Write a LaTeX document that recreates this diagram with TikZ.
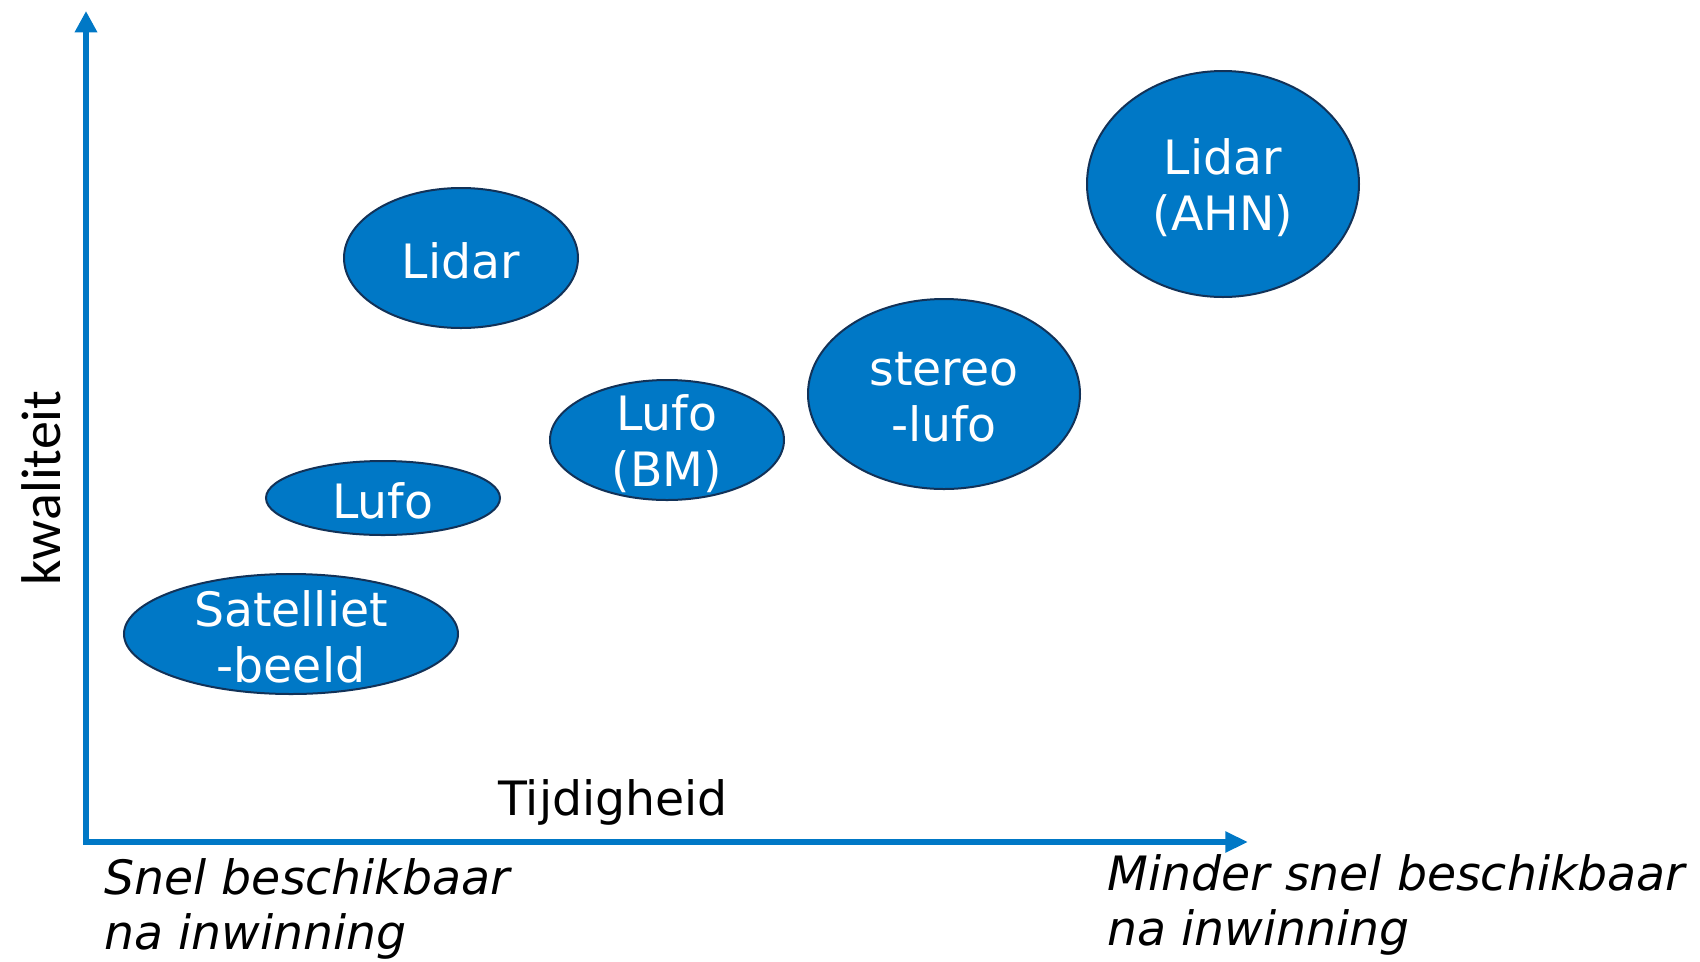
\documentclass[tikz,border=0pt]{standalone}
\usepackage{fontspec}
\setmainfont{DejaVu Sans}
\newfontfamily\kwalfont{Carlito}
\usetikzlibrary{arrows.meta,shapes.geometric}

\definecolor{blobblue}{RGB}{0,120,198}
\definecolor{blobedge}{RGB}{18,50,88}

\tikzset{every picture/.style={line width=0.75pt}}
\tikzset{
	blob/.style={ellipse, draw=blobedge, fill=blobblue, line width=1.5pt, inner sep=0pt},
	blobtext/.style={text=white, align=center, inner sep=0pt, yshift=-2.5pt, font=\fontsize{35.5}{42}\selectfont},
	axisline/.style={draw=blobblue, line width=4pt, {Triangle[width=16pt,length=16pt]}-{Triangle[width=15pt,length=17pt]}},
	axistext/.style={inner sep=0pt, font=\fontsize{35.5}{41}\selectfont\itshape, align=left, anchor=base west}}

\begin{document}
\begin{tikzpicture}[x=0.75pt,y=0.75pt,yscale=-1,xscale=1]
	\useasboundingbox (0,0) rectangle (1700,961);

	%Axes
	\coordinate (origin) at (86,842);
	\coordinate (ytop) at (86,11);
	\coordinate (xend) at (1248,842);
	\draw [axisline] (ytop) -- (origin) -- (xend);

	%Shape: Ellipse
	\node [blob, minimum width=175.5pt, minimum height=105pt] (lidar) at (461,258) {};
	%Shape: Ellipse
	\node [blob, minimum width=175.5pt, minimum height=55.5pt] (lufo) at (383,498) {};
	%Shape: Ellipse
	\node [blob, minimum width=250.5pt, minimum height=90pt] (satelliet) at (291,634) {};
	%Shape: Ellipse
	\node [blob, minimum width=175.5pt, minimum height=90pt] (lufobm) at (667,440) {};
	%Shape: Ellipse
	\node [blob, minimum width=204pt, minimum height=142.5pt] (stereo) at (944,394) {};
	%Shape: Ellipse
	\node [blob, minimum width=204pt, minimum height=169.5pt] (lidarahn) at (1223,184) {};

	% Text Node
	\node [blobtext] (lidartxt) at (lidar) {Lidar};
	% Text Node
	\node [blobtext] (lufotxt) at (lufo) {Lufo};
	% Text Node
	\node [blobtext] (satellniettxt) at (satelliet) {Satelliet\\-beeld};
	% Text Node
	\node [blobtext] (lufobmtxt) at (lufobm) {Lufo\\(BM)};
	% Text Node
	\node [blobtext] (stereotxt) at (stereo) {stereo\\-lufo};
	% Text Node
	\node [blobtext] (lidarahntxt) at (lidarahn) {Lidar\\(AHN)};

	% Text Node
	\node [inner sep=0pt, anchor=base, font=\fontsize{35.5}{42}\selectfont] (tijd) at (613,815) {Tijdigheid};
	% Text Node
	\node [inner sep=0pt, rotate=90, font=\kwalfont\fontsize{42}{50}\selectfont] (kwal) at (41,488) {kwaliteit};
	% Text Node
	\node [axistext] (snel) at (104,949) {Snel beschikbaar\\na inwinning};
	% Text Node
	\node [axistext] (minder) at (1107,945) {Minder snel beschikbaar\\na inwinning};

\end{tikzpicture}
\end{document}
